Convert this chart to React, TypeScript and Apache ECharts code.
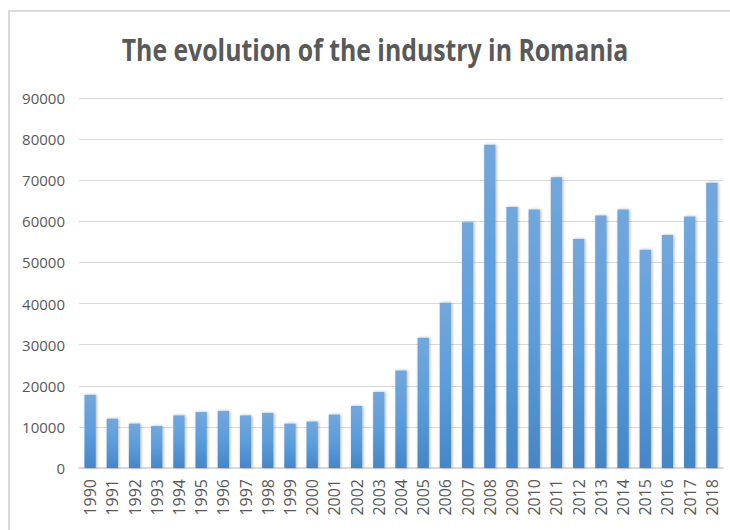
import React, { useEffect, useRef } from "react";
import * as echarts from "echarts";

const years = [
  "1990", "1991", "1992", "1993", "1994", "1995", "1996", "1997", "1998", "1999",
  "2000", "2001", "2002", "2003", "2004", "2005", "2006", "2007", "2008", "2009",
  "2010", "2011", "2012", "2013", "2014", "2015", "2016", "2017", "2018",
];
const industryValues = [
  17800, 12000, 10800, 10200, 12800, 13600, 13900, 12800, 13400, 10800,
  11300, 13000, 15100, 18500, 23700, 31700, 40200, 59800, 78600, 63500,
  62900, 70700, 55700, 61400, 62900, 53100, 56700, 61200, 69400,
];
const titleText = "The evolution of the industry in Romania";

export default function App() {
  const ref = useRef<HTMLDivElement>(null);
  useEffect(() => {
    if (!ref.current) return;
    const chart = echarts.init(ref.current, null, { renderer: "svg" });
    chart.setOption({
      animation: false,
      backgroundColor: "#ffffff",
      graphic: [
        {
          type: "rect",
          shape: { x: 9, y: 11, width: 800, height: 600 },
          style: { fill: "none", stroke: "#d9d9d9", lineWidth: 2 },
          silent: true,
        },
        {
          type: "text",
          x: 375,
          y: 49,
          scaleY: 1.25,
          silent: true,
          style: {
            text: titleText,
            textAlign: "center",
            textVerticalAlign: "middle",
            fontFamily: "Open Sans",
            fontWeight: "bold",
            fontSize: 24.8,
            fill: "#595959",
          },
        },
      ],
      grid: { left: 79, right: 7, top: 98, bottom: 62 },
      xAxis: {
        type: "category",
        data: years,
        axisLine: { lineStyle: { color: "#d9d9d9", width: 2 } },
        axisTick: { show: false },
        axisLabel: {
          rotate: 90,
          margin: 11,
          interval: 0,
          color: "#595959",
          fontFamily: "Open Sans",
          fontSize: 16,
        },
      },
      yAxis: {
        type: "value",
        min: 0,
        max: 90000,
        interval: 10000,
        axisLine: { show: false },
        axisTick: { show: false },
        splitLine: { lineStyle: { color: "#d9d9d9", width: 1 } },
        axisLabel: {
          margin: 14,
          color: "#595959",
          fontFamily: "Open Sans",
          fontSize: 15,
          formatter: (v: number) => String(v),
        },
      },
      series: [
        {
          type: "bar",
          data: industryValues,
          barWidth: "51%",
          itemStyle: {
            color: new echarts.graphic.LinearGradient(0, 0, 0, 1, [
              { offset: 0, color: "#72a7dc" },
              { offset: 0.5, color: "#5b9ddc" },
              { offset: 1, color: "#4686c6" },
            ]),
            shadowBlur: 3,
            shadowColor: "rgba(0,0,0,0.3)",
            shadowOffsetX: 1,
            shadowOffsetY: 0,
          },
        },
      ],
    });
    return () => chart.dispose();
  }, []);
  return (
    <div
      ref={ref}
      style={{ position: "fixed", left: 0, top: 0, width: 730, height: 530 }}
    />
  );
}
